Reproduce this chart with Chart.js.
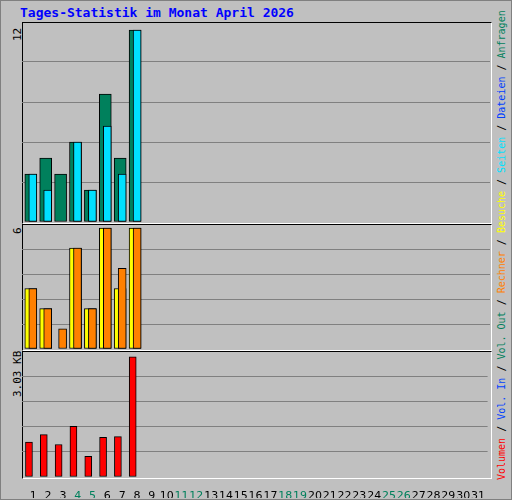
<!DOCTYPE html>
<html>
<head>
<meta charset="utf-8">
<script src="https://cdn.jsdelivr.net/npm/chart.js@4"></script>
<style>
  body { margin: 0; background: #fff; }
  #frame { position: absolute; left: 0; top: 0; width: 510px; height: 498px; background: #c0c0c0;
           border: 1px solid #808080; }
  .panel { position: absolute; left: 21px; width: 468px; border-top: 1px solid #000; border-left: 1px solid #000;
           border-right: 1px solid #fff; border-bottom: 1px solid #fff; }
  canvas { position: absolute; }
  #title { position: absolute; left: 19px; top: 4px; font: bold 13px "DejaVu Sans Mono", monospace; color: #0000ff; }
  .rot { position: absolute; transform-origin: 0 0; transform: rotate(-90deg); white-space: nowrap;
         font: 10px "DejaVu Sans Mono", monospace; }
</style>
</head>
<body>
<div id="frame">
  <div id="title">Tages-Statistik im Monat April 2026</div>
  <div class="panel" style="top:21px;height:200px"></div>
  <div class="panel" style="top:223px;height:125px"></div>
  <div class="panel" style="top:350px;height:126px"></div>
  <div class="rot" style="left:10px;top:40px;font-size:11px">12</div>
  <div class="rot" style="left:10px;top:233px;font-size:11px">6</div>
  <div class="rot" style="left:10px;top:396px;font-size:11px">3.03 KB</div>
  <div class="rot" style="left:495px;top:479px"><span style="color:#ff0000">Volumen</span> / <span style="color:#0040ff">Vol. In</span> / <span style="color:#00805c">Vol. Out</span> / <span style="color:#ff8000">Rechner</span> / <span style="color:#ffff00">Besuche</span> / <span style="color:#00e0ff">Seiten</span> / <span style="color:#0040ff">Dateien</span> / <span style="color:#00805c">Anfragen</span></div>
</div>
<canvas id="c1" style="left:22px;top:22px;width:468px;height:200px"></canvas>
<canvas id="c2" style="left:22px;top:224px;width:468px;height:125px"></canvas>
<canvas id="c3" style="left:22px;top:351px;width:468px;height:147px"></canvas>
<script>
const days = Array.from({ length: 31 }, (_, i) => i + 1);
const weekendDays = [4, 5, 11, 12, 18, 19, 25, 26];
const anfragen = [3, 4, 3, 5, 2, 8, 4, 12];
const seiten = [3, 2, 0, 5, 2, 6, 3, 12];
const besuche = [3, 2, 0, 5, 2, 6, 3, 6];
const rechner = [3, 2, 1, 5, 2, 6, 4, 6];
const volumenKB = [0.88, 1.07, 0.82, 1.28, 0.52, 1.0, 1.02, 3.03];

const PX_PER_DAY = 14.9;
const X_MIN = 1 - 11.3 / PX_PER_DAY;
const X_MAX = X_MIN + 468 / PX_PER_DAY;

function pts(arr) { return arr.map((v, i) => ({ x: days[i], y: v })); }

function shiftedAxis(px) {
  const s = -px / PX_PER_DAY;
  return { type: 'linear', display: false, offset: false, min: X_MIN + s, max: X_MAX + s };
}

function yAxis(max) {
  return {
    min: 0, max: max,
    afterBuildTicks: ax => { ax.ticks = [0, 1, 2, 3, 4, 5].map(i => ({ value: max * i / 5 })); },
    afterFit: ax => { ax.width = 0; },
    ticks: { display: false },
    border: { display: false },
    grid: { color: c => (c.index === 0 || c.index === 5) ? 'rgba(0,0,0,0)' : '#808080', drawTicks: false }
  };
}

function bar(data, color, thick, axis) {
  return { data: pts(data), backgroundColor: color, borderColor: '#000', borderWidth: 1,
           borderSkipped: false, barThickness: thick, xAxisID: axis, grouped: false };
}

function make(id, datasets, scales) {
  new Chart(document.getElementById(id), {
    type: 'bar',
    data: { datasets },
    options: {
      responsive: false, animation: false, devicePixelRatio: 1,
      layout: { padding: 0 },
      plugins: { legend: { display: false }, tooltip: { enabled: false } },
      scales
    }
  });
}

make('c1', [bar(seiten, '#00e0ff', 8, 'xb'), bar(anfragen, '#00805c', 12, 'xa')],
  { xa: shiftedAxis(-2.5), xb: shiftedAxis(-0.5), y: yAxis(12.5) });
make('c2', [bar(rechner, '#ff8000', 8, 'xb'), bar(besuche, '#ffff00', 12, 'xa')],
  { xa: shiftedAxis(-2.5), xb: shiftedAxis(-0.5), y: yAxis(6.2) });
make('c3', [bar(volumenKB, '#ff0000', 7, 'xr')],
  {
    xr: shiftedAxis(-4.3),
    x: {
      type: 'linear', position: 'bottom', offset: false, min: X_MIN, max: X_MAX,
      afterBuildTicks: ax => { ax.ticks = days.map(d => ({ value: d })); },
      afterFit: ax => { ax.height = 21; },
      border: { display: false },
      grid: { display: false },
      ticks: { autoSkip: false, maxRotation: 0, padding: 5, font: { family: 'DejaVu Sans', size: 11 },
               color: c => weekendDays.includes(c.tick.value) ? '#00805c' : '#000' }
    },
    y: yAxis(3.18)
  });
</script>
</body>
</html>
